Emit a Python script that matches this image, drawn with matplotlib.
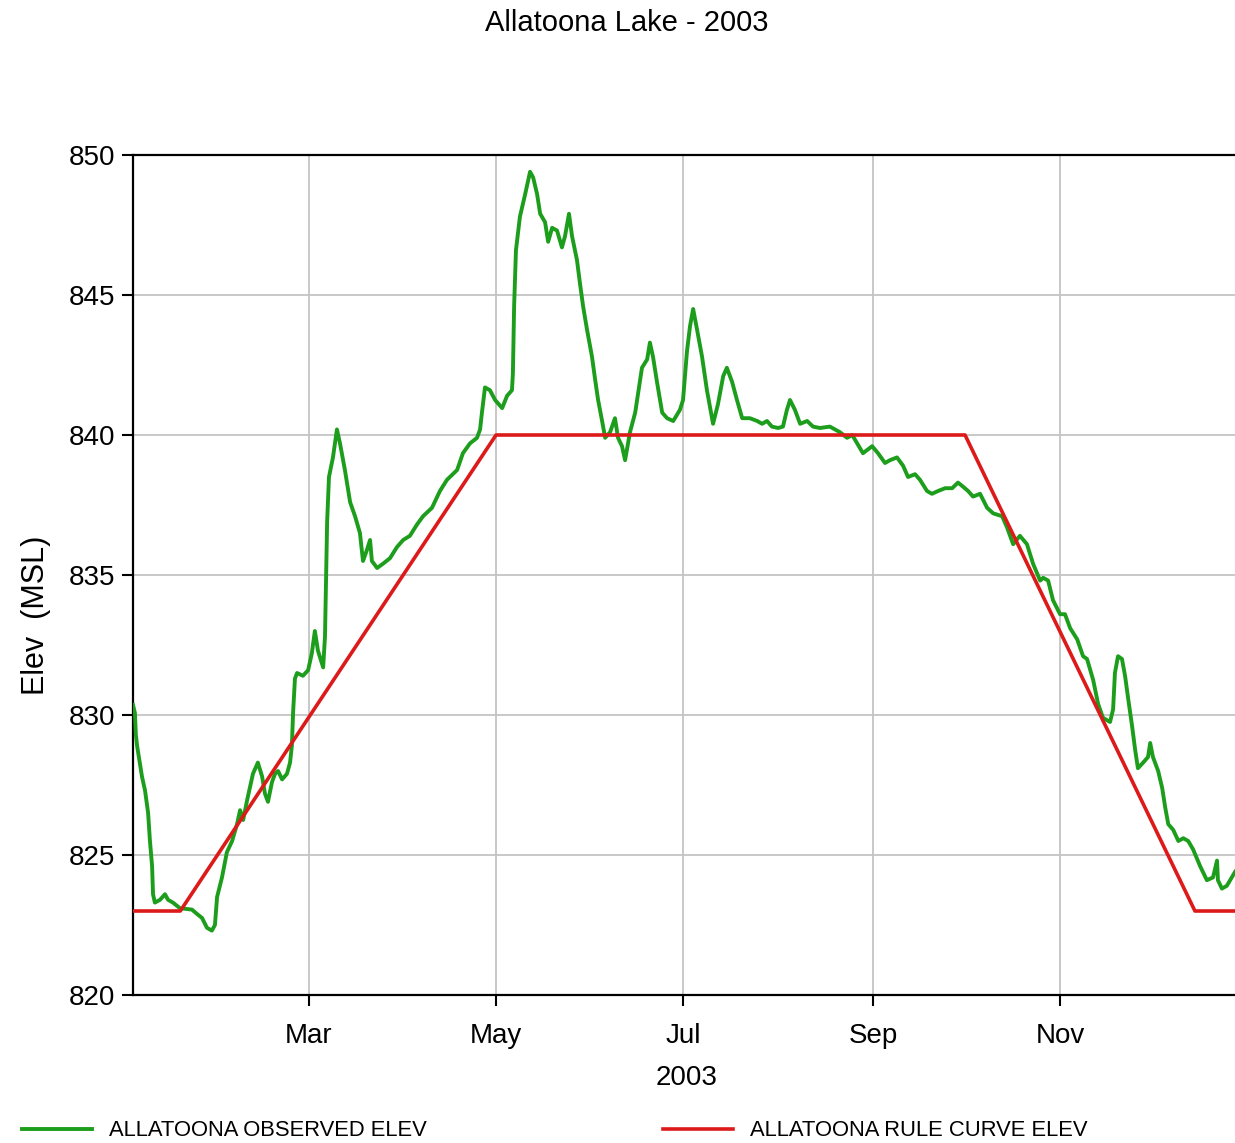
import numpy as np
import pandas as pd
import matplotlib
matplotlib.use("Agg")
import matplotlib.pyplot as plt
import matplotlib.dates as mdates

# ---- data ----
obs_day = [1.57, 2.2, 2.5, 2.9, 4.5, 5.5, 6.5, 7.1, 7.8, 8.1, 8.7, 10.4, 12.0, 13.0, 14.6, 16.9,
           20.8, 22.4, 24.1, 25.7, 27.3, 28.3, 29.0, 30.6, 32.2, 33.9, 35.5, 36.5, 37.5, 38.8,
           39.7, 40.7, 42.3, 43.7, 44.6, 45.6, 46.9, 47.9, 48.9, 50.2, 51.8, 52.8, 53.4, 53.8,
           54.4, 55.1, 57.0, 58.7, 59.9, 60.9, 61.9, 63.6, 64.2, 64.9, 65.5, 66.8, 68.1, 69.1,
           70.7, 72.4, 74.0, 75.6, 76.6, 77.9, 78.9, 79.5, 81.2, 83.1, 85.4, 87.7, 89.7, 91.9,
           94.2, 96.2, 99.1, 101.7, 104.0, 107.3, 109.2, 111.5, 113.8, 114.8, 115.4, 116.4,
           118.0, 119.7, 122.0, 123.6, 125.2, 125.5, 125.9, 126.5, 127.8, 129.5, 131.1, 132.1,
           133.4, 134.4, 136.0, 137.0, 138.3, 139.9, 141.5, 142.5, 143.8, 144.8, 146.4, 147.4,
           148.4, 149.7, 151.3, 152.3, 153.3, 154.6, 155.6, 157.2, 158.8, 159.8, 161.1, 162.1,
           163.7, 165.4, 167.6, 169.3, 170.2, 171.2, 172.5, 174.2, 175.8, 177.8, 180.0, 181.0,
           182.3, 183.3, 184.3, 185.6, 187.2, 188.8, 190.8, 192.4, 194.1, 195.3, 197.0, 198.6,
           200.3, 202.8, 205.2, 206.8, 208.4, 210.0, 212.0, 213.6, 214.9, 215.9, 217.5, 219.2,
           221.5, 223.4, 225.7, 228.9, 232.2, 234.5, 236.2, 237.8, 239.7, 242.7, 244.6, 246.9,
           248.5, 250.8, 252.8, 254.4, 256.7, 258.3, 260.6, 262.2, 264.2, 266.5, 268.8, 270.7,
           272.4, 274.0, 275.6, 277.9, 280.2, 282.2, 285.1, 286.7, 288.7, 290.9, 293.2, 295.2,
           297.5, 298.5, 300.1, 301.7, 304.0, 305.6, 307.3, 309.6, 311.5, 312.8, 314.8, 316.4,
           318.0, 320.3, 321.3, 321.9, 322.9, 324.2, 325.2, 326.2, 327.5, 328.5, 329.4, 331.1,
           332.7, 333.4, 334.3, 336.0, 337.3, 338.3, 339.3, 340.9, 342.6, 344.2, 345.8, 347.4,
           349.7, 351.9, 353.9, 355.2, 355.5, 356.8, 358.4, 360.0, 361.1]
obs_elev = [830.36, 830.07, 829.3, 828.9, 827.8, 827.3, 826.5, 825.5, 824.6, 823.6, 823.3, 823.4,
            823.6, 823.4, 823.3, 823.1, 823.05, 822.9, 822.75, 822.4, 822.3, 822.5, 823.5, 824.2,
            825.1, 825.5, 826.1, 826.6, 826.25, 826.96, 827.4, 827.9, 828.3, 827.8, 827.2, 826.9,
            827.6, 827.9, 828.0, 827.7, 827.9, 828.3, 828.9, 830.1, 831.3, 831.5, 831.4, 831.6,
            832.2, 833.0, 832.3, 831.7, 832.8, 836.9, 838.5, 839.2, 840.2, 839.7, 838.75, 837.6,
            837.1, 836.5, 835.5, 835.9, 836.25, 835.5, 835.25, 835.4, 835.6, 836.0, 836.25, 836.4,
            836.8, 837.1, 837.4, 838.0, 838.4, 838.75, 839.35, 839.7, 839.9, 840.2, 840.8, 841.7,
            841.6, 841.25, 840.96, 841.4, 841.6, 842.2, 844.6, 846.6, 847.8, 848.6, 849.4, 849.2,
            848.6, 847.9, 847.6, 846.9, 847.4, 847.3, 846.7, 847.1, 847.9, 847.1, 846.25, 845.4,
            844.6, 843.75, 842.8, 842.0, 841.25, 840.5, 839.9, 840.1, 840.6, 839.9, 839.6, 839.1,
            840.1, 840.8, 842.4, 842.7, 843.3, 842.8, 841.9, 840.8, 840.6, 840.5, 840.9, 841.25,
            843.0, 843.9, 844.5, 843.75, 842.8, 841.6, 840.4, 841.1, 842.1, 842.4, 841.9, 841.25,
            840.6, 840.6, 840.5, 840.4, 840.5, 840.3, 840.25, 840.3, 840.9, 841.25, 840.9, 840.4,
            840.5, 840.3, 840.25, 840.3, 840.1, 839.9, 840.0, 839.7, 839.35, 839.6, 839.35, 839.0,
            839.1, 839.2, 838.9, 838.5, 838.6, 838.4, 838.0, 837.9, 838.0, 838.1, 838.1, 838.3,
            838.15, 838.0, 837.8, 837.9, 837.4, 837.2, 837.1, 836.7, 836.1, 836.4, 836.1, 835.4,
            834.8, 834.9, 834.8, 834.1, 833.6, 833.6, 833.1, 832.7, 832.1, 832.0, 831.25, 830.4,
            829.9, 829.75, 830.2, 831.5, 832.1, 832.0, 831.4, 830.6, 829.6, 828.75, 828.1, 828.3,
            828.5, 829.0, 828.5, 828.0, 827.4, 826.7, 826.1, 825.9, 825.5, 825.6, 825.5, 825.2,
            824.6, 824.1, 824.2, 824.8, 824.1, 823.8, 823.9, 824.2, 824.4]

rule_dates = ["2003-01-01", "2003-01-18", "2003-05-01", "2003-10-01", "2003-12-15", "2003-12-31"]
rule_elev = [823, 823, 840, 840, 823, 823]

x_range_days = [1.57, 362.7]
y_ticks = [820, 825, 830, 835, 840, 845, 850]
tick_months = [3, 5, 7, 9, 11]

title = "Allatoona Lake - 2003"
x_title = "2003"
y_title = "Elev  (MSL)"
obs_label = "ALLATOONA OBSERVED ELEV"
rule_label = "ALLATOONA RULE CURVE ELEV"

# ---- figure ----
base = pd.Timestamp("2003-01-01")
obs_t = base + pd.to_timedelta(obs_day, unit="D")
rule_t = pd.to_datetime(rule_dates)

W, H = 1235, 1143
fig = plt.figure(figsize=(W / 100, H / 100), dpi=100)
plt.rcParams["font.family"] = ["Liberation Sans", "DejaVu Sans"]

left, right, top, bottom = 133, 1240, 155, 995
ax = fig.add_axes([left / W, 1 - bottom / H, (right - left) / W, (bottom - top) / H])

green = "#1c9e1c"
red = "#dd1a1a"
l1, = ax.plot(obs_t, obs_elev, color=green, lw=2.8, zorder=3, label=obs_label)
l2, = ax.plot(rule_t, rule_elev, color=red, lw=2.6, zorder=4, label=rule_label)

ax.set_xlim(base + pd.Timedelta(days=x_range_days[0]), base + pd.Timedelta(days=x_range_days[1]))
ax.set_ylim(y_ticks[0], y_ticks[-1])
ax.set_yticks(y_ticks)
ax.xaxis.set_major_locator(mdates.MonthLocator(bymonth=tick_months))
ax.xaxis.set_major_formatter(mdates.DateFormatter("%b"))

ax.grid(True, color="#c4c4c4", lw=1.3)
ax.set_axisbelow(True)
for s in ["left", "top", "bottom"]:
    ax.spines[s].set_linewidth(1.6)
    ax.spines[s].set_color("black")
ax.spines["right"].set_visible(False)
ax.tick_params(axis="both", labelsize=20, length=8, width=1.5, pad=5, colors="black")
ax.tick_params(axis="x", pad=12)

ax.set_xlabel(x_title, fontsize=20, labelpad=12)
ax.set_ylabel(y_title, fontsize=22, labelpad=16)
ax.yaxis.set_label_coords(-0.074, 0.452)

fig.text(627 / W, 1 - 23 / H, title, fontsize=21, ha="center", va="center")

leg_kw = dict(frameon=False, fontsize=15.8, handlelength=3.2, handletextpad=0.75,
              borderpad=0, borderaxespad=0, loc="center left")
fig.legend(handles=[l1], bbox_to_anchor=(22 / W, 1 - 1131 / H), **leg_kw)
fig.legend(handles=[l2], bbox_to_anchor=(663 / W, 1 - 1131 / H), **leg_kw)

fig.savefig("out.png", dpi=100)
